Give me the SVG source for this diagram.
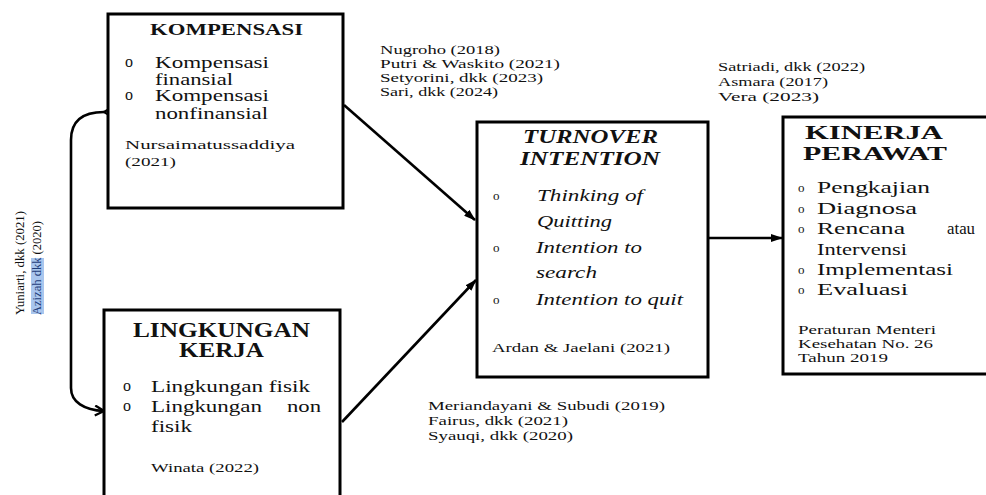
<svg xmlns="http://www.w3.org/2000/svg" width="986" height="495" viewBox="0 0 986 495">
<defs>
<style>
.box{fill:#fff;stroke:#000;stroke-width:3}
.t{font-family:"Liberation Serif","Times New Roman",serif;fill:#111}
.title{font-weight:bold}
.b{font-size:16px}
.c{font-size:13px}
.r{font-size:12px}
.i{font-style:italic}
.bl{font-size:13px}
.conn{fill:none;stroke:#000;stroke-width:2.6}
</style>
<marker id="tri" viewBox="0 0 12 8" refX="11" refY="4" markerWidth="12" markerHeight="8" markerUnits="userSpaceOnUse" orient="auto">
<path d="M0,0 L12,4 L0,8 Z" fill="#000"/>
</marker>
<marker id="chev" viewBox="0 0 12 12" refX="10" refY="6" markerWidth="12" markerHeight="12" markerUnits="userSpaceOnUse" orient="auto">
<path d="M1,1 L10,6 L1,11" fill="none" stroke="#000" stroke-width="2.4"/>
</marker>
</defs>
<rect width="986" height="495" fill="#fff"/>

<g id="connectors">
<path class="conn" d="M104,112 C84,112 71,120 71,140 L71,388 C71,402 84,410 104,411" marker-start="url(#chev)" marker-end="url(#chev)"/>
<line class="conn" x1="344" y1="105" x2="475" y2="220" marker-end="url(#tri)"/>
<line class="conn" x1="342" y1="422" x2="476" y2="280" marker-end="url(#tri)"/>
<line class="conn" x1="709" y1="238" x2="782" y2="238" marker-end="url(#tri)"/>
</g>

<g id="label-yuniarti">
<rect x="31" y="258" width="13" height="56" fill="#a9c6ee"/>
<text class="t bl" transform="translate(24,315) rotate(-90)" textLength="104" lengthAdjust="spacingAndGlyphs">Yuniarti, dkk (2021)</text>
<text class="t bl" transform="translate(41,315) rotate(-90)" textLength="94" lengthAdjust="spacingAndGlyphs"><tspan fill="#1f3d7a">Azizah dkk</tspan> (2020)</text>
</g>

<g id="kompensasi">
<rect class="box" x="108" y="14" width="235" height="194"/>
<text class="t title" x="150" y="35" font-size="16" textLength="153" lengthAdjust="spacingAndGlyphs">KOMPENSASI</text>
<text class="t b" x="125" y="67" font-size="13">o</text>
<text class="t b" x="155" y="68" textLength="114" lengthAdjust="spacingAndGlyphs">Kompensasi</text>
<text class="t b" x="155" y="85" textLength="78" lengthAdjust="spacingAndGlyphs">finansial</text>
<text class="t b" x="125" y="100" font-size="13">o</text>
<text class="t b" x="155" y="101" textLength="114" lengthAdjust="spacingAndGlyphs">Kompensasi</text>
<text class="t b" x="155" y="119" textLength="113" lengthAdjust="spacingAndGlyphs">nonfinansial</text>
<text class="t c" x="125" y="149" font-size="14" textLength="170" lengthAdjust="spacingAndGlyphs">Nursaimatussaddiya</text>
<text class="t c" x="125" y="166" font-size="14" textLength="51" lengthAdjust="spacingAndGlyphs">(2021)</text>
</g>

<g id="lingkungan">
<rect class="box" x="104" y="310" width="236" height="200"/>
<text class="t title" x="133" y="337" font-size="20" textLength="177" lengthAdjust="spacingAndGlyphs">LINGKUNGAN</text>
<text class="t title" x="179" y="357" font-size="20" textLength="85" lengthAdjust="spacingAndGlyphs">KERJA</text>
<text class="t b" x="123" y="391" font-size="13">o</text>
<text class="t b" x="151" y="392" textLength="159" lengthAdjust="spacingAndGlyphs">Lingkungan fisik</text>
<text class="t b" x="123" y="411" font-size="13">o</text>
<text class="t b" x="151" y="412" textLength="111" lengthAdjust="spacingAndGlyphs">Lingkungan</text>
<text class="t b" x="287" y="412" textLength="34" lengthAdjust="spacingAndGlyphs">non</text>
<text class="t b" x="151" y="432" textLength="41" lengthAdjust="spacingAndGlyphs">fisik</text>
<text class="t c" x="151" y="472" textLength="108" lengthAdjust="spacingAndGlyphs">Winata (2022)</text>
</g>

<g id="turnover">
<rect class="box" x="477" y="122" width="231" height="255"/>
<text class="t title i" x="523" y="143" font-size="18" textLength="135" lengthAdjust="spacingAndGlyphs">TURNOVER</text>
<text class="t title i" x="520" y="165" font-size="18" textLength="140" lengthAdjust="spacingAndGlyphs">INTENTION</text>
<text class="t" x="493" y="200" font-size="13">o</text>
<text class="t b i" x="537" y="201" textLength="106" lengthAdjust="spacingAndGlyphs">Thinking of</text>
<text class="t b i" x="537" y="227" textLength="75" lengthAdjust="spacingAndGlyphs">Quitting</text>
<text class="t" x="493" y="252" font-size="13">o</text>
<text class="t b i" x="536" y="253" textLength="106" lengthAdjust="spacingAndGlyphs">Intention to</text>
<text class="t b i" x="536" y="278" textLength="61" lengthAdjust="spacingAndGlyphs">search</text>
<text class="t" x="493" y="304" font-size="13">o</text>
<text class="t b i" x="536" y="305" textLength="147" lengthAdjust="spacingAndGlyphs">Intention to quit</text>
<text class="t c" x="492" y="352" textLength="178" lengthAdjust="spacingAndGlyphs">Ardan &amp; Jaelani (2021)</text>
</g>

<g id="kinerja">
<rect class="box" x="783" y="117" width="220" height="257"/>
<text class="t title" x="805" y="139" font-size="19" textLength="138" lengthAdjust="spacingAndGlyphs">KINERJA</text>
<text class="t title" x="803" y="160" font-size="19" textLength="144" lengthAdjust="spacingAndGlyphs">PERAWAT</text>
<text class="t" x="798" y="192" font-size="13">o</text>
<text class="t b" x="817" y="193" textLength="113" lengthAdjust="spacingAndGlyphs">Pengkajian</text>
<text class="t" x="798" y="213" font-size="13">o</text>
<text class="t b" x="817" y="214" textLength="100" lengthAdjust="spacingAndGlyphs">Diagnosa</text>
<text class="t" x="798" y="233" font-size="13">o</text>
<text class="t b" x="817" y="234" textLength="88" lengthAdjust="spacingAndGlyphs">Rencana</text>
<text class="t b" x="947" y="234" textLength="28" lengthAdjust="spacingAndGlyphs">atau</text>
<text class="t b" x="817" y="255" textLength="90" lengthAdjust="spacingAndGlyphs">Intervensi</text>
<text class="t" x="798" y="274" font-size="13">o</text>
<text class="t b" x="817" y="275" textLength="136" lengthAdjust="spacingAndGlyphs">Implementasi</text>
<text class="t" x="798" y="294" font-size="13">o</text>
<text class="t b" x="817" y="295" textLength="91" lengthAdjust="spacingAndGlyphs">Evaluasi</text>
<text class="t r" x="798" y="334" textLength="138" lengthAdjust="spacingAndGlyphs">Peraturan Menteri</text>
<text class="t r" x="798" y="348" textLength="135" lengthAdjust="spacingAndGlyphs">Kesehatan No. 26</text>
<text class="t r" x="798" y="362" textLength="90" lengthAdjust="spacingAndGlyphs">Tahun 2019</text>
</g>

<g id="refs-kompensasi">
<text class="t r" x="380" y="54" textLength="120" lengthAdjust="spacingAndGlyphs">Nugroho (2018)</text>
<text class="t r" x="380" y="68" textLength="180" lengthAdjust="spacingAndGlyphs">Putri &amp; Waskito (2021)</text>
<text class="t r" x="380" y="82" textLength="163" lengthAdjust="spacingAndGlyphs">Setyorini, dkk (2023)</text>
<text class="t r" x="380" y="96" textLength="118" lengthAdjust="spacingAndGlyphs">Sari, dkk (2024)</text>
</g>

<g id="refs-kinerja">
<text class="t c" x="718" y="71" textLength="147" lengthAdjust="spacingAndGlyphs">Satriadi, dkk (2022)</text>
<text class="t c" x="718" y="86" textLength="110" lengthAdjust="spacingAndGlyphs">Asmara (2017)</text>
<text class="t c" x="718" y="101" textLength="101" lengthAdjust="spacingAndGlyphs">Vera (2023)</text>
</g>

<g id="refs-lingkungan">
<text class="t c" x="428" y="410" textLength="237" lengthAdjust="spacingAndGlyphs">Meriandayani &amp; Subudi (2019)</text>
<text class="t c" x="428" y="425" textLength="140" lengthAdjust="spacingAndGlyphs">Fairus, dkk (2021)</text>
<text class="t c" x="428" y="440" textLength="145" lengthAdjust="spacingAndGlyphs">Syauqi, dkk (2020)</text>
</g>
</svg>
